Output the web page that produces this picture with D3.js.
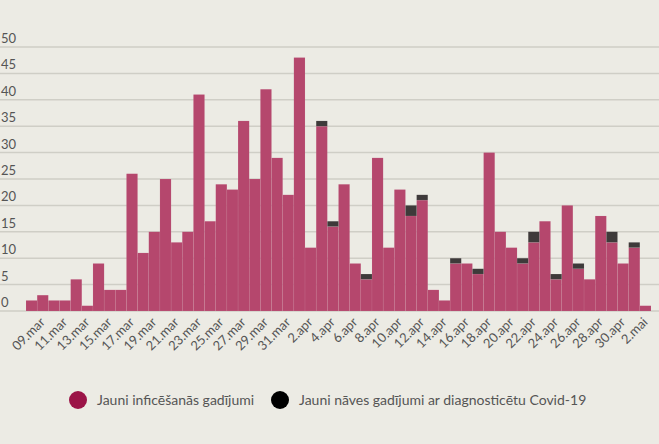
<!DOCTYPE html>
<html>
<head>
<meta charset="utf-8">
<script src="https://cdn.jsdelivr.net/npm/d3@7"></script>
<style>
  body { margin: 0; background: #ecebe4; }
  text { font-family: Lato, "Open Sans", sans-serif; }
</style>
</head>
<body>
<div id="chart"></div>
<script>
// Daily data, 8 Mar - 2 May
const days = d3.range(56);
const cases = [2, 3, 2, 2, 6, 1, 9, 4, 4, 26, 11, 15, 25, 13, 15, 41, 17, 24, 23, 36, 25, 42, 29, 22,
  48, 12, 35, 16, 24, 9, 6, 29, 12, 23, 18, 21, 4, 2, 9, 9, 7, 30, 15, 12, 9, 13, 17, 6, 20, 8,
  6, 18, 13, 9, 12, 1];
const deaths = [0, 0, 0, 0, 0, 0, 0, 0, 0, 0, 0, 0, 0, 0, 0, 0, 0, 0, 0, 0, 0, 0, 0, 0,
  0, 0, 1, 1, 0, 0, 1, 0, 0, 0, 2, 1, 0, 0, 1, 0, 1, 0, 0, 0, 1, 2, 0, 1, 0, 1,
  0, 0, 2, 0, 1, 0];
const tickLabels = ["09.mar", "11.mar", "13.mar", "15.mar", "17.mar", "19.mar", "21.mar", "23.mar",
  "25.mar", "27.mar", "29.mar", "31.mar", "2.apr", "4.apr", "6.apr", "8.apr", "10.apr", "12.apr",
  "14.apr", "16.apr", "18.apr", "20.apr", "22.apr", "24.apr", "26.apr", "28.apr", "30.apr", "2.mai"];
const yTicks = [0, 5, 10, 15, 20, 25, 30, 35, 40, 45, 50];

const W = 659, H = 444;
const svg = d3.select("#chart").append("svg")
    .attr("width", W).attr("height", H);

const x = d3.scaleBand().domain(days).range([26, 651]).padding(0);
const y = d3.scaleLinear().domain([0, 50]).range([311, 47]);

// gridlines + y labels
const grid = svg.append("g");
grid.selectAll("line").data(yTicks).join("line")
    .attr("x1", 0).attr("x2", W)
    .attr("y1", d => y(d)).attr("y2", d => y(d))
    .attr("stroke", "#cfcec6").attr("stroke-width", 1.5);
grid.selectAll("text").data(yTicks).join("text")
    .attr("x", 1).attr("y", d => y(d) - 4)
    .attr("font-size", 13).attr("fill", "#555")
    .text(d => d);

// stacked bars
const series = d3.stack().keys(["c", "d"])(days.map(i => ({c: cases[i], d: deaths[i]})));
const colors = ["#b5476d", "#3e3a3a"];
svg.append("g").selectAll("g").data(series).join("g")
    .attr("fill", (d, i) => colors[i])
    .selectAll("rect").data(d => d.map((v, i) => [v[0], v[1], i])).join("rect")
    .attr("x", d => x(d[2]))
    .attr("width", x.bandwidth())
    .attr("y", d => y(d[1]))
    .attr("height", d => y(d[0]) - y(d[1]))
    .attr("stroke", "rgba(255,255,255,0.12)").attr("stroke-width", 0.5);

// x labels, every second day starting 9 Mar
svg.append("g").selectAll("text").data(tickLabels).join("text")
    .attr("transform", (d, i) => `translate(${x(1 + 2 * i) + x.bandwidth() / 2 + 3},${323}) rotate(-45)`)
    .attr("text-anchor", "end")
    .attr("font-size", 13).attr("fill", "#555")
    .text(d => d);

// legend
const legend = [
  {label: "Jauni inficēšanās gadījumi", color: "#9b1447", cx: 78},
  {label: "Jauni nāves gadījumi ar diagnosticētu Covid-19", color: "#000", cx: 280}
];
const lg = svg.append("g").selectAll("g").data(legend).join("g");
lg.append("circle").attr("cx", d => d.cx).attr("cy", 400).attr("r", 9).attr("fill", d => d.color);
lg.append("text").attr("x", d => d.cx + 19).attr("y", 405)
    .attr("font-size", 14).attr("fill", "#555").text(d => d.label);
</script>
</body>
</html>
